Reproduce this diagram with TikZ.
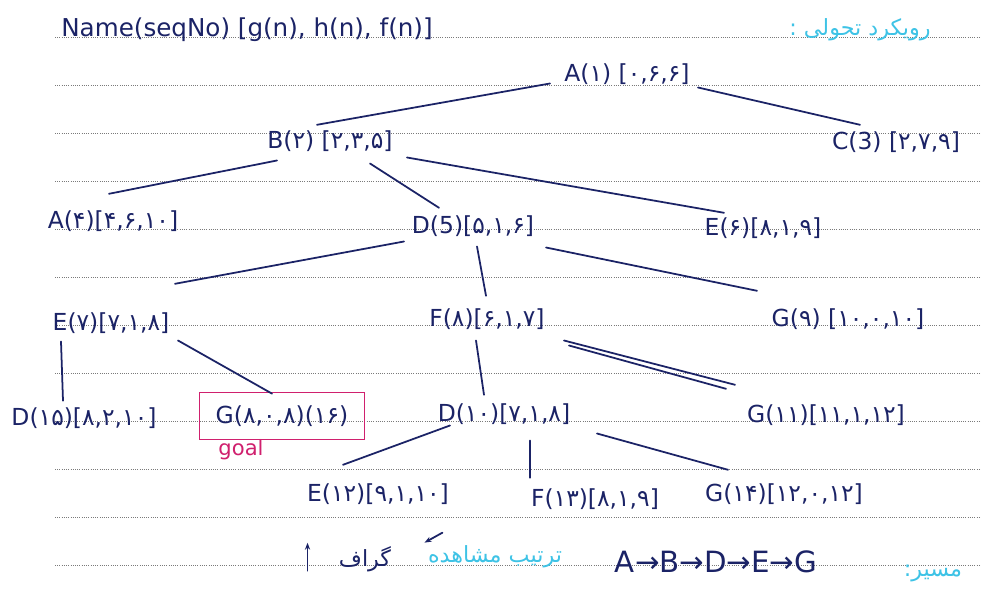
\documentclass[tikz,border=0pt]{standalone}
\usepackage{fontspec}
\setmainfont{DejaVu Sans}
\newfontfamily\fafont[Script=Arabic]{DejaVu Sans}
\TeXXeTstate=1
\usetikzlibrary{calc,arrows.meta}
\definecolor{ink}{HTML}{1B2366}
\definecolor{pen}{HTML}{D0206E}
\definecolor{sky}{HTML}{3EC3E6}
\definecolor{rulegray}{HTML}{7A7A7A}
\newcommand\handsize{\fontsize{20}{24}\selectfont}

\begin{document}
\begin{tikzpicture}
  [x=0.3mm,y=-0.3mm,
   state/.style={text=ink,inner sep=1pt,anchor=base,font=\handsize},
   link/.style={draw=ink,line width=1.5pt,line cap=round},
   ruled/.style={draw=rulegray,line width=0.7pt,dash pattern=on 0.5pt off 1.4pt},
   note/.style={text=sky,inner sep=1pt,anchor=base,font=\fafont\fontsize{19}{22}\selectfont}]
  \path[fill=white,use as bounding box] (0,0) rectangle (981,599);
  % lined paper
  \foreach \k in {0,...,11}
    \draw[ruled] (55,37+48*\k) -- (981,37+48*\k);
  % legend
  \node[state,font=\fontsize{21}{25}\selectfont] (legend) at (247,37) {Name(seqNo) [g(n), h(n), f(n)]};
  \node[note] (title) at (860,36) {\beginR رویکرد تحولی :\endR};
  % search tree
  \node[state] (A1) at (627,82) {A(۱) [۰,۶,۶]};
  \node[state] (B2) at (330,149) {B(۲) [۲,۳,۵]};
  \node[state] (C3) at (896,150) {C(3) [۲,۷,۹]};
  \node[state] (A4) at (113,228) {A(۴)[۴,۶,۱۰]};
  \node[state] (D5) at (473,233) {D(5)[۵,۱,۶]};
  \node[state] (E6) at (763,235) {E(۶)[۸,۱,۹]};
  \node[state] (E7) at (111,330) {E(۷)[۷,۱,۸]};
  \node[state] (F8) at (487,326) {F(۸)[۶,۱,۷]};
  \node[state] (G9) at (848,326) {G(۹) [۱۰,۰,۱۰]};
  \node[state] (D15) at (84,425) {D(۱۵)[۸,۲,۱۰]};
  \node[state,anchor=center,draw=pen,line width=1.5pt,minimum width=49.5mm,minimum height=14.1mm] (G16) at (282,416) {G(۸,۰,۸)(۱۶)};
  \node[text=pen,font=\fontsize{18}{21}\selectfont,inner sep=1pt] (goal) at (241,450) {goal};
  \node[state] (D10) at (504,421) {D(۱۰)[۷,۱,۸]};
  \node[state] (G11) at (826,422) {G(۱۱)[۱۱,۱,۱۲]};
  \node[state] (E12) at (378,501) {E(۱۲)[۹,۱,۱۰]};
  \node[state] (F13) at (595,506) {F(۱۳)[۸,۱,۹]};
  \node[state] (G14) at (784,501) {G(۱۴)[۱۲,۰,۱۲]};
  \foreach \from/\fx/\fy/\to/\tx/\ty in {A1/-77/-3/B2/-13/-5,A1/71/1/C3/-36/-6,
      B2/-53/7/A4/-4/-15,B2/40/10/D5/-34/-6,B2/77/4/E6/-39/-3,
      D5/-69/4/E7/64/-27,D5/4/9/F8/-1/-11,D5/73/10/G9/-91/-16,
      E7/-50/7/D15/-21/-5,E7/67/6/G16/-10/2,F8/-11/10/D10/-20/-7,
      F8/77/10/G11/-91/-18,D10/-54/0/E12/-35/-17,D10/26/15/F13/-65/-9,
      D10/93/8/G14/-56/-12}
    \draw[link] ($(\from.south)+(\fx,\fy)$) -- ($(\to.north)+(\tx,\ty)$);
  \draw[link] ($(F8.south)+(82,15)$) -- ($(G11.north)+(-100,-14)$);
  % result
  \node[state,text=ink,font=\fafont\fontsize{19}{22}\selectfont] (graf) at (365,566) {\beginR گراف\endR};
  \node[note] (order) at (495,562) {\beginR ترتیب مشاهده\endR};
  \node[state,font=\fontsize{25}{28}\selectfont] (path) at (716,572) {A→B→D→E→G};
  \node[note] (route) at (933,576) {\beginR مسیر:\endR};
  \draw[link,-{Stealth[length=6pt]}] ($(graf.north east)+(50,-12)$) -- ($(graf.north east)+(32,-2)$);
  \draw[link,-{Stealth[length=6pt]}] ($(graf.west)+(-30,12)$) -- ($(graf.west)+(-30,-16)$);
\end{tikzpicture}
\end{document}
